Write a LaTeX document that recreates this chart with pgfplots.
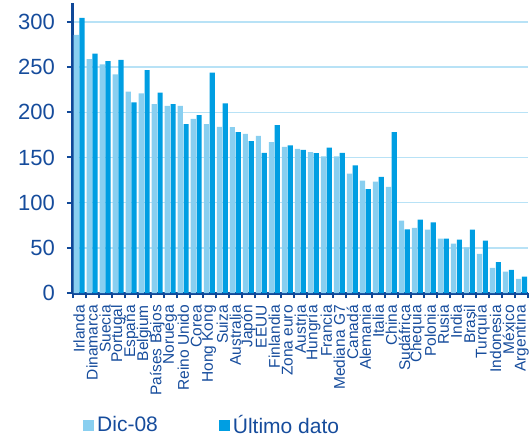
\documentclass[border=0pt]{standalone}
\usepackage{fontspec}
\setmainfont{Liberation Sans}
\usepackage{pgfplots}
\usepackage{pgfplotstable}
\pgfplotsset{compat=1.18}

\definecolor{txtblue}{RGB}{22,76,156}
\definecolor{axblue}{RGB}{16,72,152}
\definecolor{gridblue}{RGB}{184,226,246}
\definecolor{lightbar}{RGB}{137,207,240}
\definecolor{darkbar}{RGB}{0,158,226}

% idx: position on the x axis; dic: Dic-08; ult: latest figure
\pgfplotstableread{
idx dic   ult
0   285.7 304.5
1   259.0 265.0
2   253.0 256.6
3   242.0 258.0
4   223.0 211.0
5   221.0 246.6
6   209.0 221.8
7   207.0 209.0
8   207.0 187.0
9   192.7 197.0
10  187.0 244.0
11  184.0 210.0
12  183.5 178.0
13  176.0 168.0
14  174.0 155.0
15  167.0 185.7
16  161.7 163.5
17  159.5 158.4
18  156.0 154.7
19  151.3 161.0
20  151.3 155.0
21  132.0 141.4
22  124.4 115.0
23  123.3 128.5
24  117.4 178.0
25  80.0  70.5
26  72.0  81.2
27  70.1  78.3
28  60.2  60.2
29  54.6  59.0
30  50.6  70.1
31  43.2  57.9
32  27.7  34.3
33  23.6  25.5
34  15.5  18.0
}\datatable

\pgfplotsset{
  sqlegend/.style={legend image code/.code={
    \fill[##1, draw=none] (0pt,-5.5pt) rectangle (11pt,5.5pt);}},
}

\begin{document}
\begin{tikzpicture}[x=1pt,y=1pt]
\useasboundingbox (-72,-146) rectangle (460,293);
\begin{axis}[
  at={(0,0)}, anchor=south west,
  scale only axis, width=456pt, height=290pt,
  xmin=-0.55, xmax=34.5, ymin=0, ymax=321,
  ybar=0.6pt, bar width=5.2pt,
  axis x line=bottom, axis y line=left,
  axis line style={-, axblue, line width=3pt},
  tick align=outside,
  major tick length=5pt, minor tick length=5pt,
  tick style={axblue, line width=2pt},
  every major x tick/.style={draw=none},
  ytick={0,50,...,300},
  xtick={0,...,34},
  minor xtick={-0.5,0.5,...,34.5},
  xticklabels={Irlanda,Dinamarca,Suecia,Portugal,España,Belgium,Países Bajos,Noruega,Reino Unido,Corea,Hong Kong,Suiza,Australia,Japón,EEUU,Finlandia,Zona euro,Austria,Hungría,Francia,Mediana G7,Canadá,Alemania,Italia,China,Sudáfrica,Chequia,Polonia,Rusia,India,Brasil,Turquía,Indonesia,México,Argentina},
  xticklabel style={yshift=-7pt, rotate=90, anchor=east, inner sep=0pt, text=txtblue,
    font=\fontsize{15.5}{15.5}\selectfont},
  yticklabel style={xshift=-12pt, inner sep=0pt, text=txtblue, font=\fontsize{22}{22}\selectfont},
  /pgf/number format/assume math mode=true,
  ymajorgrids, grid style={gridblue, line width=1.5pt},
  legend style={at={(0,0)}, anchor=west, xshift=11pt, yshift=-132pt,
    draw=none, fill=none, inner sep=0pt, text=txtblue,
    font=\fontsize{21}{21}\selectfont,
    /tikz/every even column/.append style={column sep=58pt},
    nodes={inner xsep=3pt}},
  legend columns=2, legend cell align=left,
]
\addplot[fill=lightbar, draw=none, sqlegend] table[x=idx, y=dic] {\datatable};
\addplot[fill=darkbar, draw=none, sqlegend] table[x=idx, y=ult] {\datatable};
\legend{Dic-08, Último dato}
\end{axis}
\end{tikzpicture}
\end{document}
